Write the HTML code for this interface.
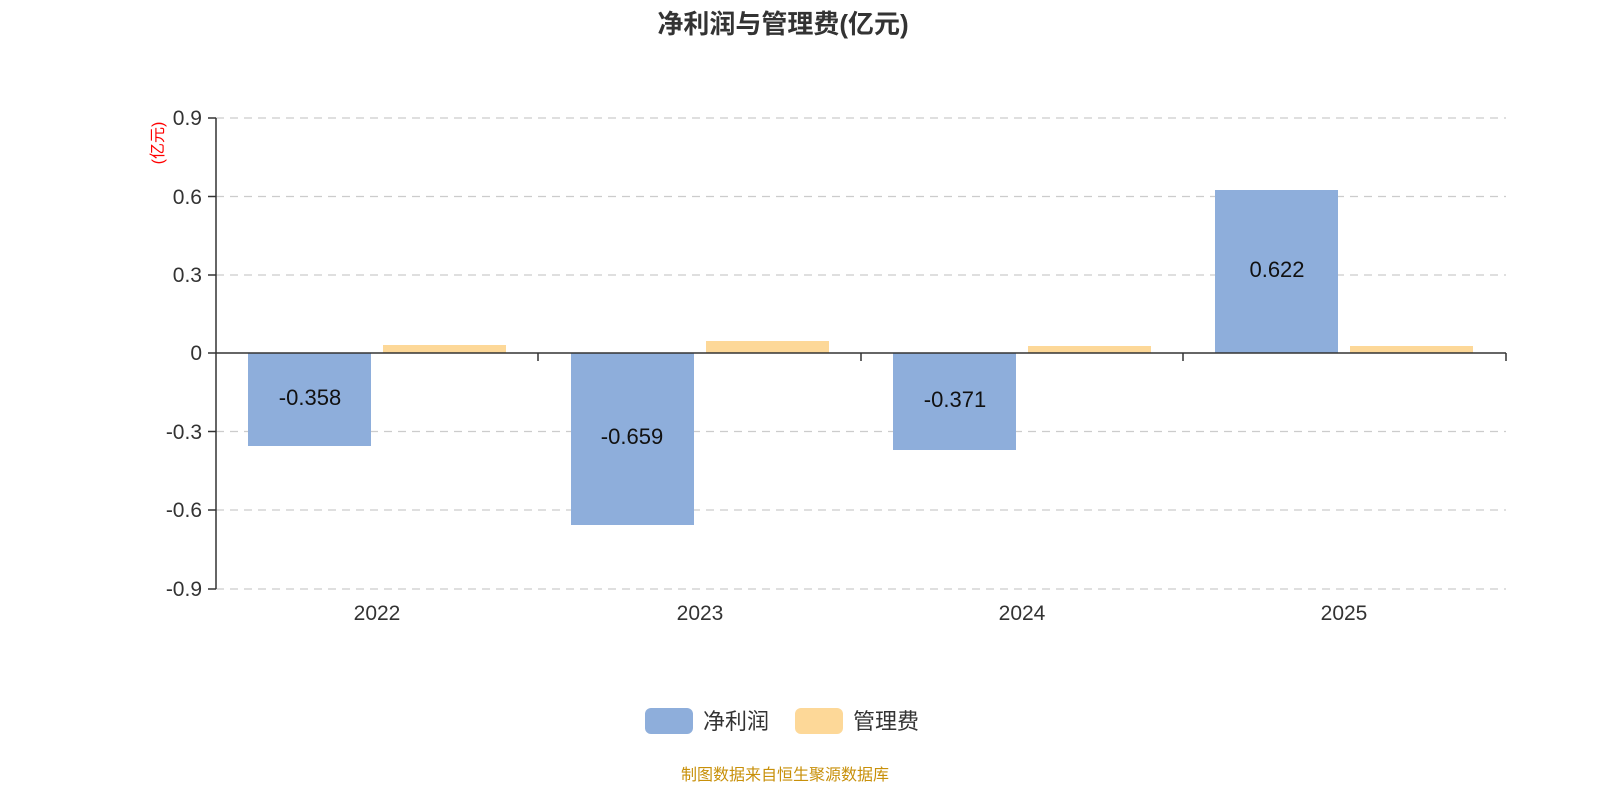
<!DOCTYPE html>
<html><head><meta charset="utf-8"><style>
html,body{margin:0;padding:0;background:#fff;}
svg text{font-family:"Liberation Sans","Noto Sans CJK SC",sans-serif;}
</style></head><body>
<svg width="1600" height="800" xmlns="http://www.w3.org/2000/svg">
<text x="783" y="33" text-anchor="middle" font-size="26" font-weight="bold" fill="#333">净利润与管理费(亿元)</text>
<g stroke="#ccc" stroke-dasharray="8,6" stroke-width="1.3">
<line x1="216" y1="118" x2="1506" y2="118"/>
<line x1="216" y1="196.5" x2="1506" y2="196.5"/>
<line x1="216" y1="275" x2="1506" y2="275"/>
<line x1="216" y1="431.5" x2="1506" y2="431.5"/>
<line x1="216" y1="510" x2="1506" y2="510"/>
<line x1="216" y1="589" x2="1506" y2="589"/>
</g>
<g fill="#8eaedb">
<rect x="248" y="353" width="123" height="93"/>
<rect x="571" y="353" width="123" height="172"/>
<rect x="893" y="353" width="123" height="97"/>
<rect x="1215" y="190" width="123" height="163"/>
</g>
<g fill="#fdd898">
<rect x="383" y="345" width="123" height="8"/>
<rect x="706" y="341" width="123" height="12"/>
<rect x="1028" y="346" width="123" height="7"/>
<rect x="1350" y="346" width="123" height="7"/>
</g>
<g stroke="#333" stroke-width="1.5">
<line x1="216" y1="118" x2="216" y2="589"/>
<line x1="208" y1="118" x2="216" y2="118"/>
<line x1="208" y1="196.5" x2="216" y2="196.5"/>
<line x1="208" y1="275" x2="216" y2="275"/>
<line x1="208" y1="353" x2="216" y2="353"/>
<line x1="208" y1="431.5" x2="216" y2="431.5"/>
<line x1="208" y1="510" x2="216" y2="510"/>
<line x1="208" y1="589" x2="216" y2="589"/>
<line x1="216" y1="353" x2="1506" y2="353"/>
<line x1="538" y1="353" x2="538" y2="361"/>
<line x1="861" y1="353" x2="861" y2="361"/>
<line x1="1183" y1="353" x2="1183" y2="361"/>
<line x1="1506" y1="353" x2="1506" y2="361"/>
</g>
<g font-size="21" fill="#333" text-anchor="end">
<text x="202" y="125">0.9</text>
<text x="202" y="204">0.6</text>
<text x="202" y="282">0.3</text>
<text x="202" y="360">0</text>
<text x="202" y="439">-0.3</text>
<text x="202" y="517">-0.6</text>
<text x="202" y="596">-0.9</text>
</g>
<text transform="translate(163,143) rotate(-90)" text-anchor="middle" font-size="16" fill="#f00">(亿元)</text>
<g font-size="21" fill="#333" text-anchor="middle">
<text x="377" y="620">2022</text>
<text x="700" y="620">2023</text>
<text x="1022" y="620">2024</text>
<text x="1344" y="620">2025</text>
</g>
<g font-size="22" fill="#111" text-anchor="middle">
<text x="310" y="405">-0.358</text>
<text x="632" y="444">-0.659</text>
<text x="955" y="407">-0.371</text>
<text x="1277" y="277">0.622</text>
</g>
<rect x="645" y="708" width="48" height="26" rx="6" fill="#8eaedb"/>
<text x="703" y="729" font-size="22" fill="#333">净利润</text>
<rect x="795" y="708" width="48" height="26" rx="6" fill="#fdd898"/>
<text x="853" y="729" font-size="22" fill="#333">管理费</text>
<text x="785" y="780" text-anchor="middle" font-size="16" fill="#c8900a">制图数据来自恒生聚源数据库</text>
</svg>
</body></html>
